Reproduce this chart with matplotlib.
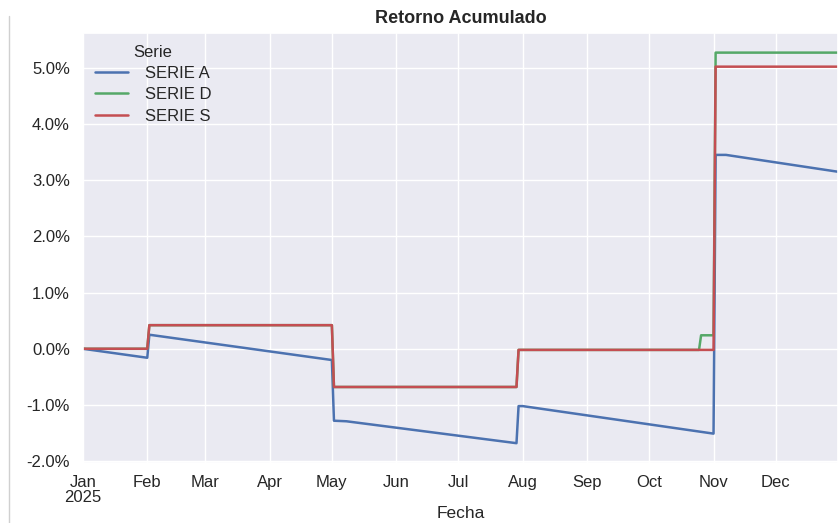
import matplotlib
matplotlib.use("Agg")
import matplotlib.pyplot as plt
from matplotlib.lines import Line2D
import pandas as pd
import seaborn as sns

# Breakpoints of each series (cumulative return, %)
dates_a = ["2025-01-01", "2025-02-01", "2025-02-02", "2025-05-01", "2025-05-02", "2025-05-08",
           "2025-07-29", "2025-07-30", "2025-08-01", "2025-11-01", "2025-11-02", "2025-11-07",
           "2025-12-31"]
serie_a = [0.00, -0.16, 0.25, -0.20, -1.28, -1.29,
           -1.68, -1.02, -1.02, -1.51, 3.45, 3.45,
           3.15]

dates_d = ["2025-01-01", "2025-02-01", "2025-02-02", "2025-05-01", "2025-05-02",
           "2025-07-29", "2025-07-30", "2025-10-25", "2025-10-26", "2025-11-01", "2025-11-02",
           "2025-12-31"]
serie_d = [0.00, 0.00, 0.42, 0.42, -0.68,
           -0.68, -0.02, -0.02, 0.24, 0.24, 5.27,
           5.27]

dates_s = ["2025-01-01", "2025-02-01", "2025-02-02", "2025-05-01", "2025-05-02",
           "2025-07-29", "2025-07-30", "2025-11-01", "2025-11-02", "2025-12-31"]
serie_s = [0.00, 0.00, 0.42, 0.42, -0.68,
           -0.68, -0.02, -0.02, 5.02, 5.02]

series = [("SERIE A", dates_a, serie_a, "#4C72B0"),
          ("SERIE D", dates_d, serie_d, "#55A868"),
          ("SERIE S", dates_s, serie_s, "#C44E52")]

month_ticks = pd.date_range("2025-01-01", "2025-12-01", freq="MS")
month_labels = ["Jan\n2025", "Feb", "Mar", "Apr", "May", "Jun",
                "Jul", "Aug", "Sep", "Oct", "Nov", "Dec"]
y_ticks = [-2, -1, 0, 1, 2, 3, 4, 5]

sns.set_theme(style="darkgrid")
plt.rcParams["font.family"] = ["Liberation Sans", "DejaVu Sans"]

fig = plt.figure(figsize=(8.38, 5.23), dpi=100)
ax = fig.add_axes([0.099, 0.115, 0.901, 0.822])

for name, d, v, c in series:
    ax.plot(pd.to_datetime(d), v, color=c, lw=1.8, label=name)

ax.set_xlim(pd.Timestamp("2025-01-01"), pd.Timestamp("2025-12-31"))
ax.set_ylim(-2.03, 5.62)
ax.set_xticks(month_ticks)
ax.set_xticklabels(month_labels, fontsize=12, linespacing=0.95)
ax.tick_params(axis="x", pad=3)
ax.set_yticks(y_ticks)
ax.set_yticklabels([f"{t:.1f}%" for t in y_ticks], fontsize=12)
ax.set_xlabel("Fecha", fontsize=12.5, labelpad=1)
ax.set_title("Retorno Acumulado", fontsize=13, fontweight="bold", pad=7)
ax.legend(title="Serie", loc="upper left", fontsize=12, title_fontsize=12,
          frameon=False, labelspacing=0.38, handletextpad=1.0, borderaxespad=0.3)

fig.add_artist(Line2D([0.011, 0.011], [0.0, 0.97], color="#d0d0d0", lw=1))

fig.savefig("out.png", dpi=100)
